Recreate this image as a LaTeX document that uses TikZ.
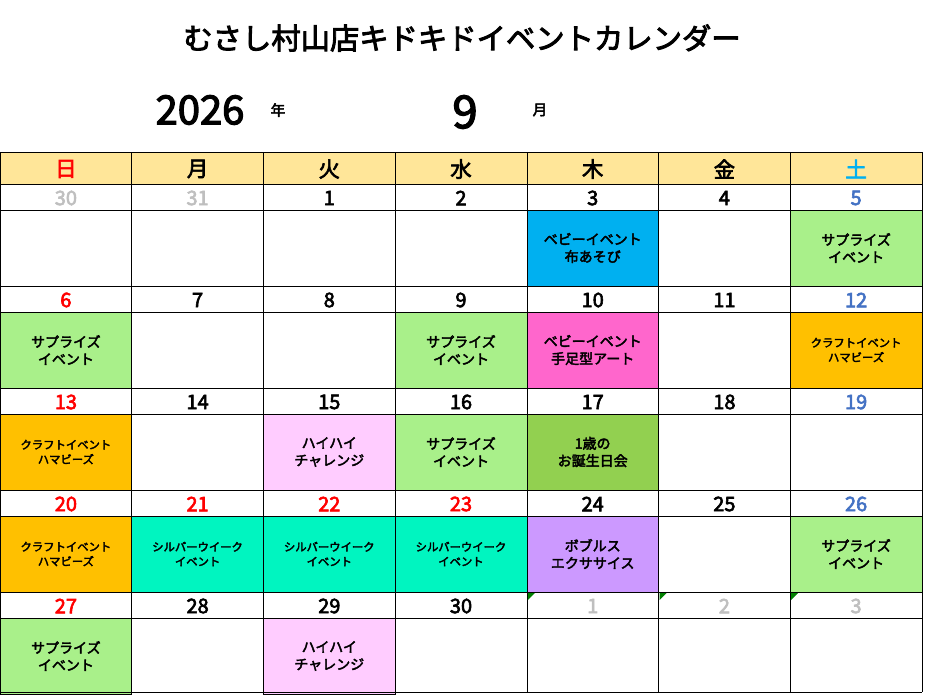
\documentclass[tikz,border=0pt]{standalone}
\usepackage{fontspec}
\newfontfamily\jp{Noto Sans CJK JP}[AutoFakeBold=3]
\definecolor{hdr}{HTML}{FFE699}
\definecolor{sup}{HTML}{A9F08A}
\definecolor{baby}{HTML}{00B0F0}
\definecolor{pinkev}{HTML}{FF66CC}
\definecolor{craft}{HTML}{FFC000}
\definecolor{haihai}{HTML}{FFCCFF}
\definecolor{bday}{HTML}{92D050}
\definecolor{silver}{HTML}{00F5C0}
\definecolor{bob}{HTML}{CC99FF}
\definecolor{satb}{HTML}{4472C4}
\definecolor{grayd}{HTML}{BFBFBF}
\tikzset{
  ev/.style={fill=#1,draw=black,minimum width=131.7*0.75pt,minimum height=76*0.75pt,
    inner sep=0pt,align=center,font=\jp\bfseries\fontsize{10.5}{13}\selectfont},
  evs/.style={ev=#1,font=\jp\bfseries\fontsize{8.5}{11}\selectfont},
  dnum/.style={font=\jp\bfseries\fontsize{15}{15}\selectfont,text=#1},
  dnum/.default=black
}
\begin{document}
\begin{tikzpicture}[x=0.75pt,y=-0.75pt]
  \useasboundingbox (0,0) rectangle (925,694);
  % title
  \node[font=\jp\bfseries\fontsize{22}{22}\selectfont] (title) at (462,38) {むさし村山店キドキドイベントカレンダー};
  \node[font=\jp\bfseries\fontsize{30}{30}\selectfont] (year) at (200,110) {2026};
  \node[font=\jp\bfseries\fontsize{11}{11}\selectfont] (nen) at (278,110) {年};
  \node[font=\jp\bfseries\fontsize{34}{34}\selectfont] (mon) at (465,112) {9};
  \node[font=\jp\bfseries\fontsize{11}{11}\selectfont] (tsuki) at (540,110) {月};
  % header
  \fill[hdr] (0,152) rectangle (922,184);
  \foreach \w [count=\i from 0] in {日,月,火,水,木,金,土} {
    \pgfmathsetmacro{\cx}{\i*131.7+65.9}
    \node[font=\jp\bfseries\fontsize{16}{16}\selectfont] (wd\i) at (\cx,169) {\w};
  }
  \node[font=\jp\bfseries\fontsize{16}{16}\selectfont,text=red,fill=hdr] at (wd0) {日};
  \node[font=\jp\bfseries\fontsize{16}{16}\selectfont,text=baby,fill=hdr] at (wd6) {土};
  % events
  \foreach \r/\c/\col/\txt in {0/4/baby/{ベビーイベント\\布あそび},0/6/sup/{サプライズ\\イベント},
      1/0/sup/{サプライズ\\イベント},1/3/sup/{サプライズ\\イベント},1/4/pinkev/{ベビーイベント\\手足型アート},
      2/2/haihai/{ハイハイ\\チャレンジ},2/3/sup/{サプライズ\\イベント},2/4/bday/{1歳の\\お誕生日会},
      3/4/bob/{ボブルス\\エクササイス},3/6/sup/{サプライズ\\イベント},
      4/0/sup/{サプライズ\\イベント},4/2/haihai/{ハイハイ\\チャレンジ}} {
    \node[ev=\col] (ev\r\c) at (\c*131.7+65.9,\r*102+248) {\txt};
  }
  \foreach \r/\c/\col/\txt in {1/6/craft/{クラフトイベント\\ハマビーズ},2/0/craft/{クラフトイベント\\ハマビーズ},
      3/0/craft/{クラフトイベント\\ハマビーズ},3/1/silver/{シルバーウイーク\\イベント},
      3/2/silver/{シルバーウイーク\\イベント},3/3/silver/{シルバーウイーク\\イベント}} {
    \node[evs=\col] (ev\r\c) at (\c*131.7+65.9,\r*102+248) {\txt};
  }
  % grid
  \foreach \r in {0,...,4} {
    \draw (0,\r*102+184) -- (922,\r*102+184);
    \draw (0,\r*102+210) -- (922,\r*102+210);
  }
  \draw (0,152) -- (922,152);
  \draw (0,692) -- (922,692);
  \foreach \i in {0,...,7} \draw (\i*131.7,152) -- (\i*131.7,692);
  % dates
  \foreach \r/\c/\d/\col in {0/0/30/grayd,0/1/31/grayd,0/2/1/black,0/3/2/black,0/4/3/black,0/5/4/black,0/6/5/satb,
      1/0/6/red,1/1/7/black,1/2/8/black,1/3/9/black,1/4/10/black,1/5/11/black,1/6/12/satb,
      2/0/13/red,2/1/14/black,2/2/15/black,2/3/16/black,2/4/17/black,2/5/18/black,2/6/19/satb,
      3/0/20/red,3/1/21/red,3/2/22/red,3/3/23/red,3/4/24/black,3/5/25/black,3/6/26/satb,
      4/0/27/red,4/1/28/black,4/2/29/black,4/3/30/black,4/4/1/grayd,4/5/2/grayd,4/6/3/grayd} {
    \node[dnum=\col] (d\r\c) at (\c*131.7+65.9,\r*102+198) {\d};
  }
  \foreach \c in {4,5,6}
    \fill[green!50!black] (\c*131.7+1,593) -- (\c*131.7+8,593) -- (\c*131.7+1,600) -- cycle;
\end{tikzpicture}
\end{document}
